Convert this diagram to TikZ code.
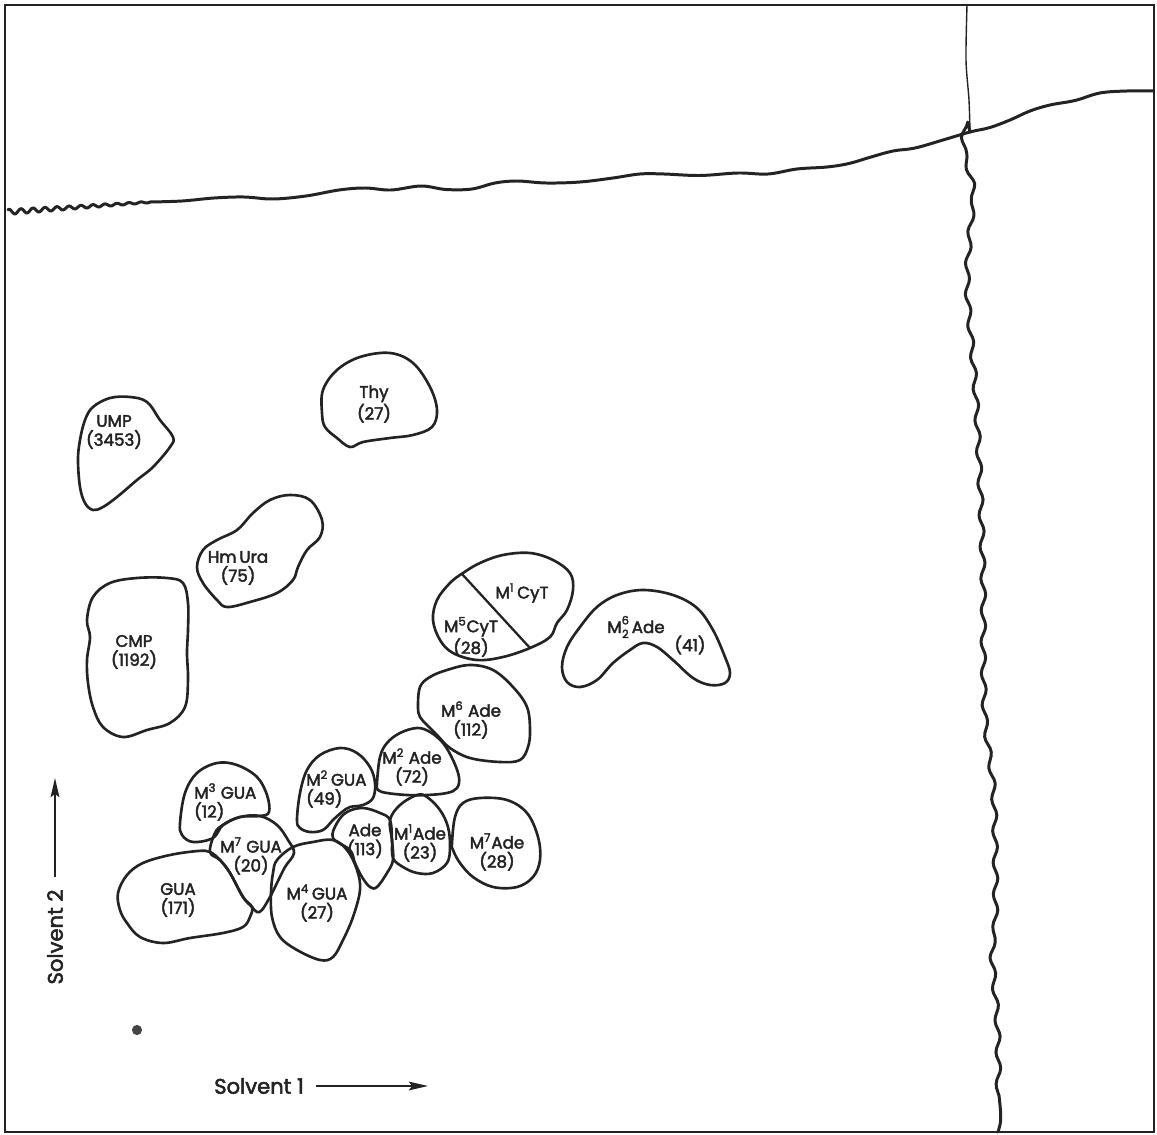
\documentclass[tikz,border=0pt]{standalone}
\usepackage{fontspec}
\setmainfont{Poppins}[FakeBold=2.5]
\usepackage{tikz}
\usetikzlibrary{positioning,arrows.meta,calc,decorations.pathmorphing}
\definecolor{inkgray}{RGB}{35,35,35}

\begin{document}
\begin{tikzpicture}[
  x=0.02cm, y=-0.02cm,
  spot/.style={draw=inkgray, line width=1.5pt, line join=round},
  spotlabel/.style={font=\fontsize{9.5}{10.8}\selectfont, align=center, inner sep=0.5pt, text=inkgray},
  front/.style={draw=inkgray, line width=1.7pt, line cap=round, line join=round},
  axislabel/.style={font=\fontsize{12}{14}\selectfont, text=inkgray, inner sep=2pt},
  axisarrow/.style={-{Stealth[length=11pt,width=5pt,inset=2pt]}, line width=0.9pt, draw=inkgray}
]
\useasboundingbox (0,0) rectangle (1157,1135);
\draw[inkgray, line width=1.1pt] (5,5) rectangle (1154,1132);

% solvent fronts
\draw[front] plot[domain=8:150, samples=143] (\x, {212-0.07*(\x-8)+2.6*(1-(\x-8)/190)*sin(\x*30)});
\draw[front] plot[smooth, tension=0.6] coordinates {(150,202) (182,201) (214,198) (244,197) (273,199) (306,196) (339,190) (365,188) (391,190) (421,186) (446,189.5) (472,189) (495,183) (517,181) (546,183) (580,182) (613,178) (640,174) (664,174) (700,175.5) (738,173) (768,174) (797,169) (827,167) (849,163.5) (871,157) (893,151) (915,148) (943,140) (970,132) (990,127.5) (1010,120) (1030,111) (1050,105) (1075,100.5) (1100,93) (1127,91) (1153,91)};
\draw[inkgray, line width=0.8pt] plot[smooth] coordinates {(967,5) (966,60) (969,100) (970,132)};
\draw[front, decorate, decoration={snake, amplitude=1.3pt, segment length=18pt}]
  plot[smooth] coordinates {(970,132) (968,160) (978,203) (975,240) (972,300) (980,400) (985,500) (988,600) (988,667) (990,733) (998,800) (1000,867) (1000,933) (997,967) (1002,1033) (1003,1100) (998,1132)};

% spots
\draw[spot] plot[smooth cycle, tension=0.6] coordinates {(78,460) (80,440) (85,420) (93,407) (110,398) (130,397) (147,402) (160,420) (173,437) (170,447) (153,467) (137,480) (117,497) (103,507) (93,510) (85,503) (80,487)};
\node[spotlabel] (ump) at (114,432) {UMP\\(3453)};

\draw[spot] plot[smooth cycle, tension=0.6] coordinates {(322,413) (323,390) (337,370) (360,357) (390,353) (413,363) (430,387) (437,410) (432,427) (413,435) (390,438) (363,442) (350,447) (337,438) (325,427)};
\node[spotlabel] (thy) at (374,404) {Thy\\(27)};

\draw[spot] plot[smooth cycle, tension=0.6] coordinates {(197,567) (203,550) (217,540) (237,530) (253,513) (270,500) (290,495) (310,500) (322,520) (320,537) (307,550) (298,567) (293,580) (277,593) (250,602) (227,607) (217,600) (203,583)};
\node[spotlabel] (hmura) at (238,568) {Hm\,Ura\\(75)};

\draw[spot] plot[smooth cycle, tension=0.6] coordinates {(87,620) (93,597) (110,583) (137,578) (167,578) (183,583) (188,603) (188,630) (187,653) (188,680) (185,707) (170,723) (147,730) (123,737) (103,727) (93,707) (88,683) (87,660) (90,637)};
\node[spotlabel] (cmp) at (134,652) {CMP\\(1192)};

\draw[spot] plot[smooth cycle, tension=0.6] coordinates {(433,620) (437,600) (450,583) (463,573) (480,563) (503,555) (530,553) (553,560) (570,573) (573,590) (567,610) (557,623) (550,637) (530,648) (503,657) (477,660) (453,653) (440,640)};
\draw[inkgray, line width=1.3pt] (462,574) -- (530,648);
\node[spotlabel] (m1cyt) at (522,593) {M\textsuperscript{1}\,CyT};
\node[spotlabel] (m5cyt) at (471,637) {M\textsuperscript{5}CyT\\(28)};

\draw[spot] plot[smooth cycle, tension=0.6] coordinates {(562,667) (567,647) (580,627) (597,607) (617,595) (643,590) (673,595) (697,608) (713,630) (725,657) (730,673) (725,683) (710,685) (693,678) (673,660) (657,647) (643,643) (630,650) (613,663) (597,680) (580,687) (567,682)};
\node[spotlabel] (m26ade) at (636,627) {M\raisebox{-0.55ex}{\fontsize{6.5}{6.6}\selectfont\shortstack{6\\2}}\,Ade};
\node[spotlabel] (m26val) at (690,645) {(41)};

\draw[spot] plot[smooth cycle, tension=0.6] coordinates {(418,707) (420,687) (430,677) (447,670) (470,665) (493,670) (513,687) (527,707) (530,730) (528,747) (520,760) (500,762) (470,758) (450,748) (437,735) (427,725) (420,717)};
\node[spotlabel] (m6ade) at (471,720) {M\textsuperscript{6} Ade\\(112)};

\draw[spot] plot[smooth cycle, tension=0.6] coordinates {(377,783) (380,757) (387,743) (400,733) (417,728) (430,732) (443,743) (453,760) (459,777) (457,788) (447,793) (427,795) (407,795) (387,793) (378,790)};
\node[spotlabel] (m2ade) at (412,767) {M\textsuperscript{2} Ade\\(72)};

\draw[spot] plot[smooth cycle, tension=0.6] coordinates {(297,820) (300,793) (307,770) (320,755) (340,748) (357,753) (370,767) (375,783) (373,798) (363,805) (350,807) (342,812) (333,820) (323,830) (310,832) (300,828)};
\node[spotlabel, align=left, anchor=west] (m2gua) at (305,789) {M\textsuperscript{2}\,GUA\\(49)};

\draw[spot] plot[smooth cycle, tension=0.6] coordinates {(180,823) (185,793) (197,773) (217,763) (237,765) (257,777) (267,795) (269,812) (260,816) (240,817) (223,825) (213,838) (193,842) (182,835)};
\node[spotlabel, align=left, anchor=west] (m3gua) at (193,802) {M\textsuperscript{3} GUA\\(12)};

\draw[spot] plot[smooth cycle, tension=0.6] coordinates {(210,852) (215,833) (223,825) (240,817) (260,816) (277,825) (288,840) (294,853) (285,867) (277,883) (270,897) (262,910) (257,912) (252,907) (243,897) (230,873) (220,860)};
\node[spotlabel] (m7gua) at (251,856) {M\textsuperscript{7} GUA\\(20)};

\draw[spot] plot[smooth cycle, tension=0.6] coordinates {(118,893) (127,875) (143,863) (170,855) (198,851) (210,852) (220,860) (230,873) (243,897) (252,907) (250,917) (243,927) (223,933) (190,938) (163,943) (140,937) (127,923) (120,910)};
\node[spotlabel] (gua) at (178,900) {GUA\\(171)};

\draw[spot] plot[smooth cycle, tension=0.6] coordinates {(277,860) (293,847) (313,842) (333,840) (347,850) (357,870) (360,890) (353,917) (343,940) (333,957) (320,960) (297,950) (280,937) (272,917) (271,893) (273,873)};
\node[spotlabel] (m4gua) at (317,903) {M\textsuperscript{4}\,GUA\\(27)};

\draw[spot] plot[smooth cycle, tension=0.6] coordinates {(333,838) (337,823) (347,812) (363,808) (380,813) (390,820) (392,840) (393,860) (387,873) (377,887) (370,887) (362,877) (355,863) (350,850)};
\node[spotlabel] (ade) at (365,841) {Ade\\(113)};

\draw[spot] plot[smooth cycle, tension=0.6] coordinates {(390,820) (400,805) (417,795) (427,797) (440,810) (448,827) (450,847) (447,863) (433,873) (417,873) (403,867) (393,858) (392,840)};
\node[spotlabel] (m1ade) at (420,843) {M\textsuperscript{1}Ade\\(23)};

\draw[spot] plot[smooth cycle, tension=0.6] coordinates {(452,843) (455,817) (463,803) (480,798) (507,800) (527,813) (538,837) (540,860) (533,877) (517,887) (493,887) (473,877) (460,863) (453,850)};
\node[spotlabel] (m7ade) at (497,852) {M\textsuperscript{7}Ade\\(28)};

% origin
\fill[inkgray!85] (137,1030) circle (2.9pt);

% axes
\node[axislabel] (solv1) at (259,1086) {Solvent 1};
\coordinate (s1tip) at (428,1086);
\draw[axisarrow, shorten <=5pt] (solv1) -- (s1tip);
\node[axislabel, rotate=90] (solv2) at (55,937) {Solvent 2};
\coordinate (s2tip) at (55,778);
\draw[axisarrow, shorten <=5pt] (solv2) -- (s2tip);
\end{tikzpicture}
\end{document}
